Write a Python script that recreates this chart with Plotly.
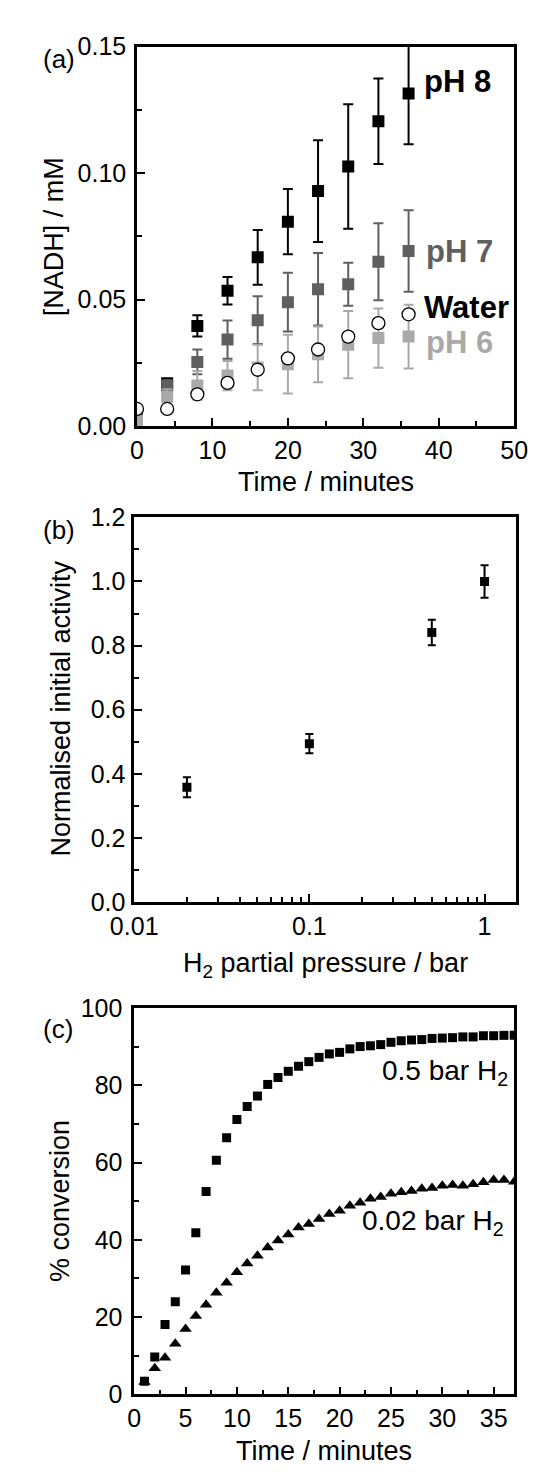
import plotly.graph_objects as go

# ---------------- Panel (a) data ----------------
time_a = [0, 4, 8, 12, 16, 20, 24, 28, 32, 36]
ph8 = [0.003, 0.017, 0.0396, 0.0535, 0.0667, 0.0808, 0.0929, 0.1026, 0.1205, 0.1314]
ph8_err = [0.001, 0.0015, 0.0042, 0.0054, 0.0108, 0.0129, 0.0201, 0.0246, 0.0169, 0.0200]
ph7 = [0.003, 0.0161, 0.0254, 0.0342, 0.0419, 0.0490, 0.0541, 0.0561, 0.0650, 0.0692]
ph7_err = [0.001, 0.002, 0.0049, 0.0076, 0.0094, 0.0116, 0.0143, 0.0085, 0.0152, 0.0161]
ph6 = [0.002, 0.0116, 0.0161, 0.0200, 0.0232, 0.0245, 0.0284, 0.0322, 0.0348, 0.0354]
ph6_err = [0.001, 0.003, 0.0057, 0.0058, 0.0090, 0.0116, 0.0110, 0.0133, 0.0117, 0.0126]
water = [0.0068, 0.0068, 0.0126, 0.0171, 0.0223, 0.0268, 0.0303, 0.0354, 0.0407, 0.0442]

# ---------------- Panel (b) data ----------------
pressure_b = [0.02, 0.1, 0.5, 1.0]
activity_b = [0.358, 0.494, 0.841, 1.0]
activity_err = [0.031, 0.030, 0.040, 0.051]

# ---------------- Panel (c) data ----------------
time_c = list(range(1, 38))
conv_05 = [3.4, 9.7, 18.1, 24.0, 32.2, 41.8, 52.5, 60.6, 66.4, 71.1, 74.5, 77.2, 80.2,
           82.0, 83.6, 84.9, 86.1, 87.2, 88.1, 88.5, 89.4, 90.0, 90.2, 90.5, 91.1,
           91.5, 91.7, 91.8, 92.1, 92.2, 92.3, 92.5, 92.5, 92.8, 92.8, 92.9, 92.9]
conv_002 = [3.2, 6.8, 9.5, 13.1, 16.9, 20.3, 23.2, 26.3, 28.9, 31.6, 33.9, 35.9, 38.0,
            39.8, 41.4, 43.2, 44.1, 45.4, 46.7, 47.5, 48.8, 49.6, 50.6, 51.1, 51.9,
            52.3, 52.6, 53.2, 53.4, 54.0, 54.2, 54.0, 54.4, 54.9, 55.5, 55.5, 55.0]

W, H = 536, 1474
FONT = "Arial, Liberation Sans, sans-serif"
BLACK = "#000000"
DARK = "#5f5f5f"
LIGHT = "#a9a9a9"


def px(x):
    return x / W


def py(y):
    return 1 - y / H


fig = go.Figure()


def err_scatter(x, y, err, color, symbol, size, xa, ya, fill=None, cap=5):
    return go.Scatter(
        x=x, y=y, mode="markers", xaxis=xa, yaxis=ya, showlegend=False,
        marker=dict(symbol=symbol, size=size, color=fill if fill else color,
                    line=dict(color=color, width=1.3 if fill else 0)),
        error_y=None if err is None else dict(type="data", array=err, visible=True,
                                                color=color, thickness=2, width=cap),
    )


# panel (a)
fig.add_trace(err_scatter(time_a, ph8, ph8_err, BLACK, "square", 12, "x", "y"))
fig.add_trace(err_scatter(time_a, ph7, ph7_err, DARK, "square", 12, "x", "y"))
fig.add_trace(err_scatter(time_a, ph6, ph6_err, LIGHT, "square", 12, "x", "y"))
fig.add_trace(err_scatter(time_a, water, None, BLACK, "circle", 13, "x", "y", fill="white"))

# panel (b)
fig.add_trace(err_scatter(pressure_b, activity_b, activity_err, BLACK, "square", 9, "x2", "y2", cap=4))

# panel (c)
fig.add_trace(go.Scatter(x=time_c, y=conv_05, mode="markers", xaxis="x3", yaxis="y3",
                         showlegend=False, marker=dict(symbol="square", size=9, color=BLACK)))
fig.add_trace(go.Scatter(x=time_c, y=conv_002, mode="markers", xaxis="x3", yaxis="y3",
                         showlegend=False, marker=dict(symbol="triangle-up", size=11, color=BLACK)))

axis_common = dict(
    showline=True, linecolor=BLACK, linewidth=2.5, mirror=True,
    ticks="inside", ticklen=8, tickwidth=2, tickcolor=BLACK,
    showgrid=False, zeroline=False,
    tickfont=dict(family=FONT, size=25, color=BLACK),
)
minor_common = dict(ticks="inside", ticklen=5, tickwidth=2, tickcolor=BLACK, showgrid=False)

fig.update_layout(
    width=W, height=H, autosize=False,
    margin=dict(l=0, r=0, t=0, b=0),
    paper_bgcolor="white", plot_bgcolor="white",
    font=dict(family=FONT, color=BLACK),
    xaxis=dict(**axis_common, domain=[px(113), px(519)], range=[0, 50], dtick=10,
               minor=dict(**minor_common, dtick=5), anchor="y", ticklabelstandoff=0),
    yaxis=dict(**axis_common, domain=[py(412), py(25)], range=[0, 0.15], dtick=0.05,
               tickformat=".2f", minor=dict(**minor_common, dtick=0.025), anchor="x",
               ticklabelstandoff=3),
    xaxis2=dict(**axis_common, type="log", domain=[px(110), px(521)], range=[-2, 0.18],
                tickmode="array", tickvals=[0.01, 0.1, 1], ticktext=["0.01", "0.1", "1"],
                minor=dict(**minor_common, tickmode="array",
                           tickvals=[0.02, 0.03, 0.04, 0.05, 0.06, 0.07, 0.08, 0.09,
                                     0.2, 0.3, 0.4, 0.5, 0.6, 0.7, 0.8, 0.9]),
                anchor="y2", ticklabelstandoff=0),
    yaxis2=dict(**axis_common, domain=[py(897), py(505)], range=[0, 1.2], dtick=0.2,
                tickformat=".1f", minor=dict(**minor_common, dtick=0.1), anchor="x2",
                ticklabelstandoff=1),
    xaxis3=dict(**axis_common, domain=[px(110), px(519)], range=[0, 37], dtick=5,
                minor=dict(**minor_common, dtick=2.5), anchor="y3", ticklabelstandoff=0),
    yaxis3=dict(**axis_common, domain=[py(1399), py(1005)], range=[0, 100], dtick=20,
                minor=dict(**minor_common, dtick=10), anchor="x3", ticklabelstandoff=4),
)

ann = []


def text(x, y, s, size=27, color=BLACK, bold=False, angle=0, xanchor="center", ref="paper"):
    d = dict(text=("<b>%s</b>" % s) if bold else s, showarrow=False,
             font=dict(family=FONT, size=size, color=color), textangle=angle,
             xanchor=xanchor, yanchor="middle")
    if ref == "paper":
        d.update(x=px(x), y=py(y), xref="paper", yref="paper")
    else:
        xr, yr = ref
        d.update(x=x, y=y, xref=xr, yref=yr)
    ann.append(d)


# panel letters
text(29, 38, "(a)", size=26)
text(29, 518, "(b)", size=26)
text(28, 1026, "(c)", size=26)

# axis titles
text(24, 219, "[NADH] / mM", angle=-90)
text(316, 469, "Time / minutes")
text(31, 700, "Normalised initial activity", angle=-90)
text(316, 961, "H<sub>2</sub> partial pressure / bar")
text(30, 1202, "% conversion", angle=-90)
text(314, 1457, "Time / minutes")

# series labels panel (a)
text(37.8, 0.1360, "pH 8", size=31, bold=True, xanchor="left", ref=("x", "y"))
text(38.0, 0.0690, "pH 7", size=31, color=DARK, bold=True, xanchor="left", ref=("x", "y"))
text(37.8, 0.0468, "Water", size=31, bold=True, xanchor="left", ref=("x", "y"))
text(38.0, 0.0330, "pH 6", size=31, color=LIGHT, bold=True, xanchor="left", ref=("x", "y"))

# series labels panel (c)
text(36.6, 83.3, "0.5 bar H<sub>2</sub>", size=28, xanchor="right", ref=("x3", "y3"))
text(36.2, 44.5, "0.02 bar H<sub>2</sub>", size=28, xanchor="right", ref=("x3", "y3"))

fig.update_layout(annotations=ann)
fig.write_html("out.html")
